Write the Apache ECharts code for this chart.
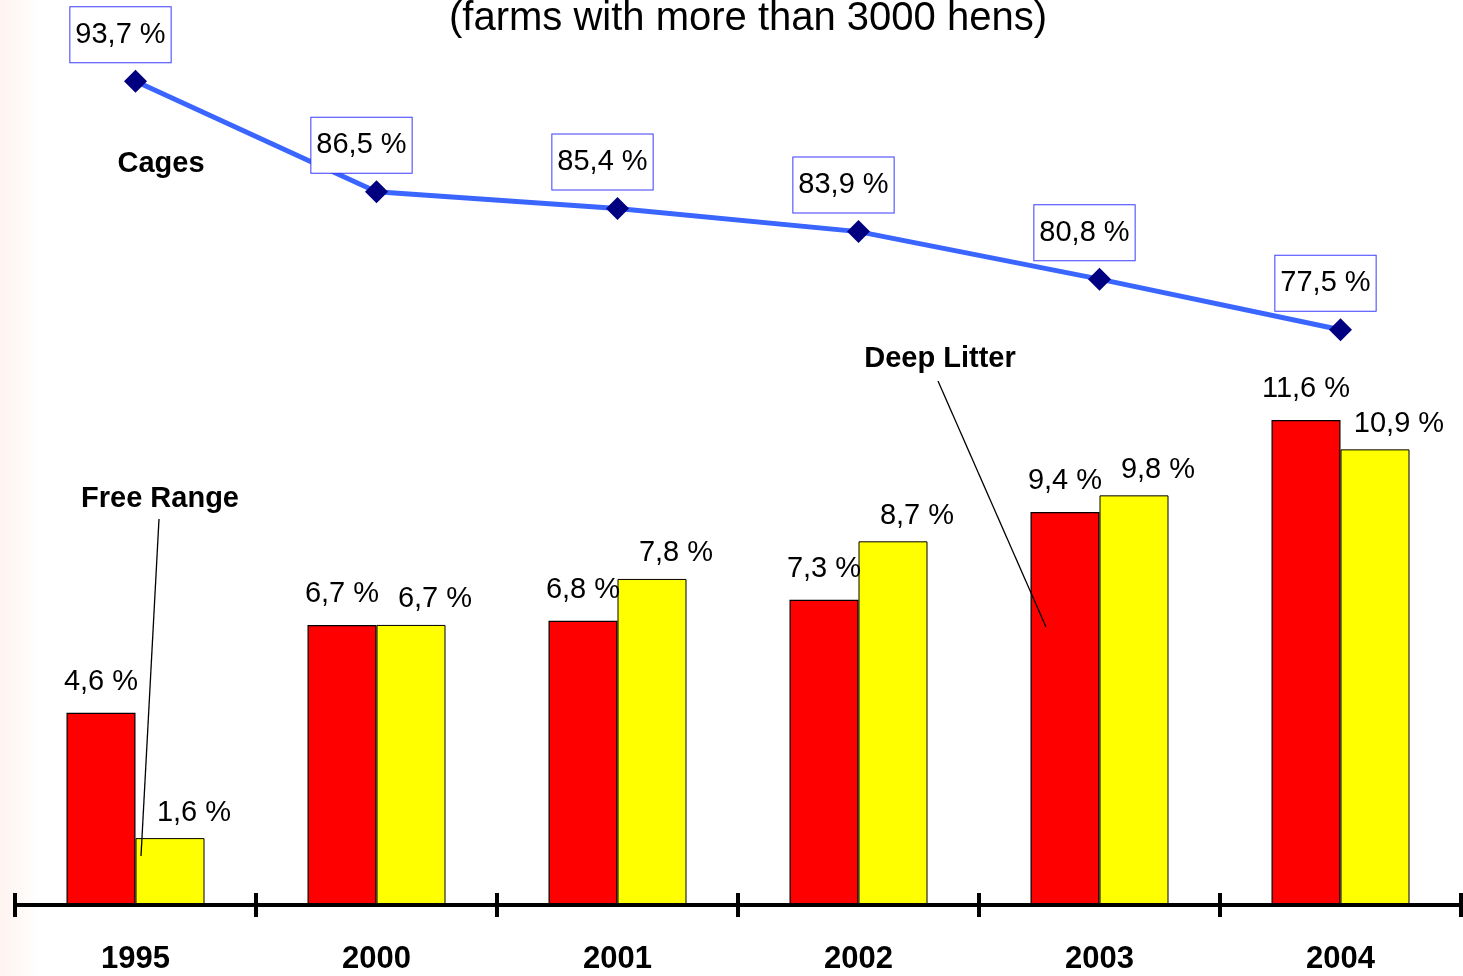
<!DOCTYPE html>
<html>
<head>
<meta charset="utf-8">
<script src="https://cdn.jsdelivr.net/npm/echarts@6/dist/echarts.min.js"></script>
<style>
html,body{margin:0;padding:0;background:#ffffff;}
#chart{width:1463px;height:976px;}
</style>
</head>
<body>
<div id="chart"></div>
<script>
// ---- data ----
const years = ['1995', '2000', '2001', '2002', '2003', '2004'];
const deepLitter = [4.6, 6.7, 6.8, 7.3, 9.4, 11.6];
const freeRange = [1.6, 6.7, 7.8, 8.7, 9.8, 10.9];
const cages = [93.7, 86.5, 85.4, 83.9, 80.8, 77.5];
const titleText = '(farms with more than 3000 hens)';
const seriesNames = ['Deep Litter', 'Free Range', 'Cages'];

// ---- styling ----
const FONT = "'Liberation Sans', Arial, sans-serif";
const fmt = p => p.value.toFixed(1).replace('.', ',') + ' %';

const chart = echarts.init(document.getElementById('chart'), null, {renderer: 'canvas'});

const tickStyle = {color: '#000', width: 4};

const option = {
  backgroundColor: '#ffffff',
  animation: false,
  grid: {left: 15, right: 2, top: 0, bottom: 71, containLabel: false},
  xAxis: [
    {
      type: 'category', data: years, position: 'bottom', z: 10,
      axisLine: {show: true, lineStyle: {color: '#000', width: 4}},
      axisTick: {show: true, inside: false, length: 12, lineStyle: tickStyle},
      axisLabel: {
        margin: 39, color: '#000', fontFamily: FONT, fontWeight: 'bold',
        fontSize: 31, lineHeight: 31
      },
      splitLine: {show: false}
    },
    {
      type: 'category', data: years, position: 'bottom', z: 10,
      axisLine: {show: false},
      axisTick: {show: true, inside: true, length: 12, lineStyle: tickStyle},
      axisLabel: {show: false},
      splitLine: {show: false}
    }
  ],
  yAxis: [
    {type: 'value', min: 0, max: 21.65, show: false, splitLine: {show: false}},
    {type: 'value', min: 40, max: 99, show: false, splitLine: {show: false}}
  ],
  series: [
    {
      name: seriesNames[0], type: 'bar', data: deepLitter,
      xAxisIndex: 0, yAxisIndex: 0,
      barWidth: 69, barGap: '0%',
      itemStyle: {color: '#ff0000', borderColor: '#000', borderWidth: 1.2},
      label: {
        show: true, position: 'top', distance: 16.5, formatter: fmt,
        color: '#000', fontFamily: FONT, fontSize: 29, lineHeight: 29
      }
    },
    {
      name: seriesNames[1], type: 'bar', data: freeRange,
      xAxisIndex: 0, yAxisIndex: 0,
      barWidth: 69, barGap: '0%',
      itemStyle: {color: '#ffff00', borderColor: '#000', borderWidth: 1},
      label: {
        show: true, position: 'top', distance: 11, offset: [24, 0], formatter: fmt,
        color: '#000', fontFamily: FONT, fontSize: 29, lineHeight: 29
      }
    },
    {
      name: seriesNames[2], type: 'line', data: cages,
      xAxisIndex: 0, yAxisIndex: 1, z: 5,
      symbol: 'diamond', symbolSize: 23,
      lineStyle: {color: '#3a66ff', width: 5},
      itemStyle: {color: '#000080', borderWidth: 0},
      label: {
        show: true, position: 'top', distance: 7.5, offset: [-15, 0], formatter: fmt,
        color: '#000', fontFamily: FONT, fontSize: 29, lineHeight: 29,
        backgroundColor: '#ffffff', borderColor: '#3b3bff', borderWidth: 1,
        padding: [13, 5, 13, 5]
      }
    }
  ],
  graphic: [
    {
      type: 'rect', z: -100, silent: true,
      shape: {x: 0, y: 0, width: 40, height: 976},
      style: {
        fill: new echarts.graphic.LinearGradient(0, 0, 1, 0, [
          {offset: 0, color: '#fef3f0'},
          {offset: 1, color: '#ffffff'}
        ])
      }
    },
    {
      type: 'text', x: 748, y: 18.5, silent: true,
      style: {
        text: titleText, fill: '#000', fontFamily: FONT, fontSize: 40,
        textAlign: 'center', textVerticalAlign: 'middle'
      }
    },
    {
      type: 'text', x: 161, y: 164, silent: true,
      style: {
        text: seriesNames[2], fill: '#000', fontFamily: FONT, fontSize: 29, fontWeight: 'bold',
        textAlign: 'center', textVerticalAlign: 'middle'
      }
    },
    {
      type: 'text', x: 160, y: 499, silent: true,
      style: {
        text: seriesNames[1], fill: '#000', fontFamily: FONT, fontSize: 29, fontWeight: 'bold',
        textAlign: 'center', textVerticalAlign: 'middle'
      }
    },
    {
      type: 'text', x: 940, y: 359, silent: true,
      style: {
        text: seriesNames[0], fill: '#000', fontFamily: FONT, fontSize: 29, fontWeight: 'bold',
        textAlign: 'center', textVerticalAlign: 'middle'
      }
    },
    {
      type: 'line', silent: true, z: 20,
      shape: {x1: 159, y1: 519, x2: 141, y2: 856},
      style: {stroke: '#000', lineWidth: 1.3}
    },
    {
      type: 'line', silent: true, z: 20,
      shape: {x1: 938, y1: 381, x2: 1046, y2: 627},
      style: {stroke: '#000', lineWidth: 1.3}
    }
  ]
};

chart.setOption(option);
</script>
</body>
</html>
